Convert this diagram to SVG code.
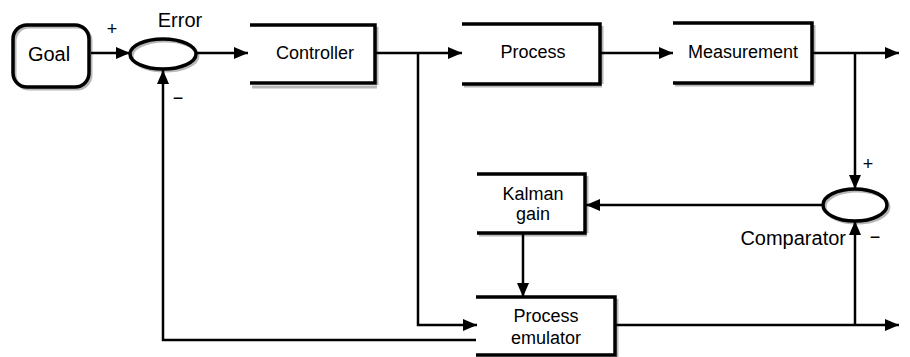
<svg xmlns="http://www.w3.org/2000/svg" width="910" height="357" viewBox="0 0 910 357">
<style>
text{font-family:"Liberation Sans",Arial,sans-serif;fill:#000}
.lbl{font-size:18px;text-anchor:middle}
.big{font-size:20px}
.box{fill:none;stroke:#000;stroke-width:3.5;stroke-linejoin:miter}
.sh{fill:none;stroke:#999;stroke-width:3;opacity:.7}
.ln{fill:none;stroke:#000;stroke-width:2.5}
</style>
<defs>
<marker id="ah" viewBox="0 0 14 12" refX="14" refY="6" markerWidth="14" markerHeight="12" markerUnits="userSpaceOnUse" orient="auto">
<path d="M0,0 L14,6 L0,12 z" fill="#000"/>
</marker>
</defs>
<rect width="910" height="357" fill="#fff"/>
<g id="goal">
<rect x="15" y="27" width="76" height="62" rx="14" class="sh"/>
<rect x="13" y="25" width="76" height="62" rx="14" class="box"/>
<text x="49" y="61" class="lbl big">Goal</text>
</g>
<g id="error">
<ellipse cx="165" cy="56" rx="33" ry="15" class="sh" stroke-width="4"/>
<ellipse cx="163" cy="54" rx="33" ry="15" class="box"/>
<text x="180" y="27" class="lbl big">Error</text>
<text x="112" y="35" class="lbl" font-size="16">+</text>
<text x="178" y="104" class="lbl" font-size="16">−</text>
</g>
<g id="controller">
<path d="M252,87 H377 M377,27 V85" class="sh"/>
<path d="M250,25 H375 V83 H250" class="box"/>
<text x="315" y="59" class="lbl">Controller</text>
</g>
<g id="process">
<path d="M464,86 H602 M602,26 V84" class="sh"/>
<path d="M462,24 H600 V84 H462" class="box"/>
<text x="533" y="58" class="lbl">Process</text>
</g>
<g id="measurement">
<path d="M675,85 H814 M814,25 V83" class="sh"/>
<path d="M673,23 H812 V83 H673" class="box"/>
<text x="743" y="58" class="lbl">Measurement</text>
</g>
<g id="kalman">
<path d="M479,235 H587 M587,176 V233" class="sh"/>
<path d="M477,174 H585 V233 H477" class="box"/>
<text x="533" y="200" class="lbl">Kalman</text>
<text x="533" y="220" class="lbl">gain</text>
</g>
<g id="emulator">
<path d="M617,299 V357" class="sh"/>
<path d="M476,297 H615 V355 H476" class="box"/>
<text x="546" y="322" class="lbl">Process</text>
<text x="546" y="344" class="lbl">emulator</text>
</g>
<g id="comparator">
<ellipse cx="857" cy="207" rx="32" ry="16" class="sh" stroke-width="4"/>
<ellipse cx="855" cy="205" rx="32" ry="16" class="box"/>
<text x="846" y="245" class="big" text-anchor="end">Comparator</text>
<text x="868" y="170" class="lbl" font-size="16">+</text>
<text x="875" y="243" class="lbl" font-size="16">−</text>
</g>
<g id="connectors">
<path d="M91,53 H130" class="ln" marker-end="url(#ah)"/>
<path d="M196,53 H248" class="ln" marker-end="url(#ah)"/>
<path d="M375,53 H462" class="ln" marker-end="url(#ah)"/>
<path d="M418,53 V325 H477" class="ln" marker-end="url(#ah)"/>
<path d="M600,53 H673" class="ln" marker-end="url(#ah)"/>
<path d="M812,53 H899" class="ln" marker-end="url(#ah)"/>
<path d="M855,53 V189" class="ln" marker-end="url(#ah)"/>
<path d="M823,205 H586" class="ln" marker-end="url(#ah)"/>
<path d="M523,233 V297" class="ln" marker-end="url(#ah)"/>
<path d="M615,325 H899" class="ln" marker-end="url(#ah)"/>
<path d="M855,325 V221" class="ln" marker-end="url(#ah)"/>
<path d="M476,340 H163 V70" class="ln" marker-end="url(#ah)"/>
</g>
</svg>
